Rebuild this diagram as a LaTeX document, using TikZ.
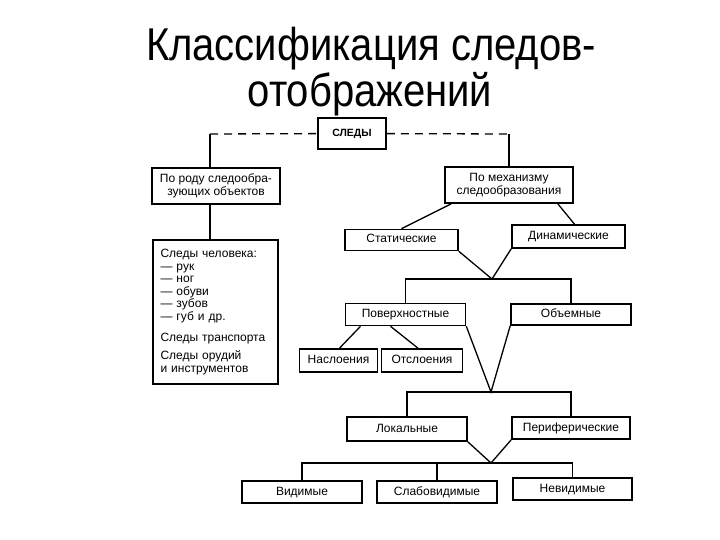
\documentclass[tikz,border=0pt]{standalone}
\usepackage{fontspec}
\setmainfont{Liberation Sans}
\usetikzlibrary{positioning}

\begin{document}
\begin{tikzpicture}[x=1pt,y=-1pt]
	\tikzstyle{heading} = [inner sep=0, anchor=base, yscale=1.15, transform shape, font=\fontsize{40}{40}\selectfont]
	\tikzstyle{frame} = [draw=black, line width=1.6pt, fill=white, align=center, inner sep=0, font=\fontsize{12}{13}\selectfont]
	\tikzstyle{box} = [frame, text height=8.6pt, text depth=2.6pt]
	\tikzstyle{link} = [black, line width=1.3pt]
	\tikzstyle{dlink} = [black, line width=1.3pt, dash pattern=on 8pt off 6pt]
	\useasboundingbox (0,0) rectangle (720,540);
	
	\node [heading] (h1) at (371,61) {Классификация следов-};
	\node [heading] (h2) at (370,107) {отображений};
	
	\node [box,minimum width=68,minimum height=31,font=\fontsize{10.5}{12}\selectfont\bfseries] (sl) at (352,133.5) {СЛЕДЫ};
	\node [frame,minimum width=128,minimum height=36] (rod) at (216,186) {По роду следообра-\\зующих объектов};
	\node [frame,minimum width=128,minimum height=36] (meh) at (509,185) {По механизму\\следообразования};
	\node [frame,minimum width=125,minimum height=144,align=left,text width=110,font=\fontsize{12}{12.6}\selectfont] (chel) at (215.5,312) {Следы человека:\\— рук\\— ног\\— обуви\\— зубов\\— губ и др.\\[8pt]Следы транспорта\\[6pt]Следы орудий\\и инструментов};
	
	\node [box,minimum width=113,minimum height=21] (stat) at (401.5,240) {Статические};
	\node [box,minimum width=113,minimum height=23] (din) at (568.5,236.5) {Динамические};
	\node [box,minimum width=120,minimum height=22] (pov) at (405.5,314.5) {Поверхностные};
	\node [box,minimum width=120,minimum height=21] (obj) at (571,314.5) {Объемные};
	\node [box,minimum width=78,minimum height=23] (nasl) at (338.5,360.5) {Наслоения};
	\node [box,minimum width=81,minimum height=23] (otsl) at (422,360.5) {Отслоения};
	\node [box,minimum width=120,minimum height=24] (lok) at (407,429) {Локальные};
	\node [box,minimum width=118,minimum height=22] (per) at (571,428) {Периферические};
	\node [box,minimum width=120,minimum height=22] (vid) at (302,492) {Видимые};
	\node [box,minimum width=120,minimum height=22] (sla) at (437,492) {Слабовидимые};
	\node [box,minimum width=119,minimum height=22] (nev) at (572.5,489) {Невидимые};
	
	\coordinate (d1) at (210,134);
	\coordinate (d2) at (509,134);
	\coordinate (v1) at (492,279);
	\coordinate (v2) at (491,392);
	\coordinate (v3) at (491,463);
	
	\draw [dlink] (d1) edge (sl);
	\draw [dlink] (sl) edge (d2);
	\draw [link] (d1) -- (d1 |- rod.north);
	\draw [link] (rod.south -| d1) -- (d1 |- chel.north);
	\draw [link] (d2) edge (meh);
	
	\draw [link] ([xshift=7]meh.south west) -- (stat.north);
	\draw [link] ([xshift=-16]meh.south east) -- ([xshift=6]din.north);
	\draw [link] (stat.south east) -- (v1) -- (din.south west);
	\draw [link] (pov.north) |- (v1) -| (obj.north);
	
	\draw [link] ([xshift=-45]pov.south) -- ([xshift=1]nasl.north);
	\draw [link] ([xshift=-15]pov.south) -- ([xshift=-4]otsl.north);
	\draw [link] (pov.south east) -- (v2) -- (obj.south west);
	\draw [link] (lok.north) |- (v2) -| (per.north);
	
	\draw [link] (lok.south east) -- (v3) -- (per.south west);
	\draw [link] (vid.north) |- (v3) -| (nev.north);
	\draw [link] (sla.north) -- (sla.north |- v3);
\end{tikzpicture}
\end{document}
